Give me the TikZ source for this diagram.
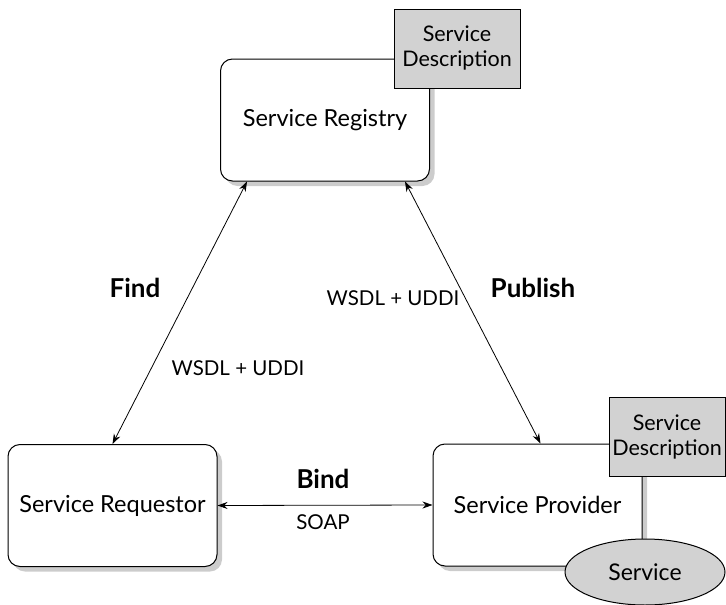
\documentclass[tikz,border=0pt]{standalone}
\usepackage{fontspec}
\setmainfont{Lato}
\usetikzlibrary{positioning, shapes.geometric, arrows.meta, shadows}

\begin{document}
\begin{tikzpicture}[x=1pt, y=-1pt,
        caja/.style={draw, line width=1pt, rounded corners=12pt, fill=white,
            minimum width=209pt, minimum height=122pt, font=\fontsize{23.5}{27}\selectfont,
            drop shadow={shadow xshift=5pt, shadow yshift=-5pt, fill=gray!40, opacity=1}},
        descr/.style={draw, line width=1pt, fill=gray!35, align=center, inner sep=0pt,
            font=\fontsize{21.5}{25}\selectfont},
        flecha/.style={{Stealth[length=10pt,width=7pt]}-{Stealth[length=10pt,width=7pt]}, line width=0.8pt},
        etiq/.style={font=\fontsize{20.5}{24}\selectfont},
        verbo/.style={font=\bfseries\fontsize{26}{30}\selectfont}]
        \useasboundingbox (0,0) rectangle (726,605);

        % Cajas principales
        \node[caja] (registro) at (325,120) {Service Registry};
        \node[caja] (solicitante) at (112.5,505.5) {Service Requestor};
        \node[caja] (proveedor) at (537.5,505) {Service Provider};

        % Descripciones y servicio
        \node[descr, minimum width=126pt, minimum height=79pt] (descA) at (457,48.5) {Service\\Description};
        \node[descr, minimum width=116pt, minimum height=79pt] (descB) at (667,436.5) {Service\\Description};
        \node[ellipse, draw, line width=1pt, fill=gray!35, minimum width=160pt, minimum height=66pt,
            font=\fontsize{23}{27}\selectfont] (servicio) at (645,572) {Service};

        % Conexiones
        \draw[flecha] (solicitante.north) -- ([xshift=-78pt]registro.south);
        \draw[flecha] ([xshift=80pt]registro.south) -- ([xshift=3pt]proveedor.north);
        \draw[flecha] (solicitante.east) -- (proveedor.west);

        % Etiquetas
        \node[verbo] (find) at (135,288) {Find};
        \node[verbo] (publish) at (533,288) {Publish};
        \node[verbo] (bind) at (323,479) {Bind};
        \node[etiq] (wsdlA) at (238,368) {WSDL + UDDI};
        \node[etiq] (wsdlB) at (393,298) {WSDL + UDDI};
        \node[etiq] (soap) at (323,522) {SOAP};
\end{tikzpicture}
\end{document}
